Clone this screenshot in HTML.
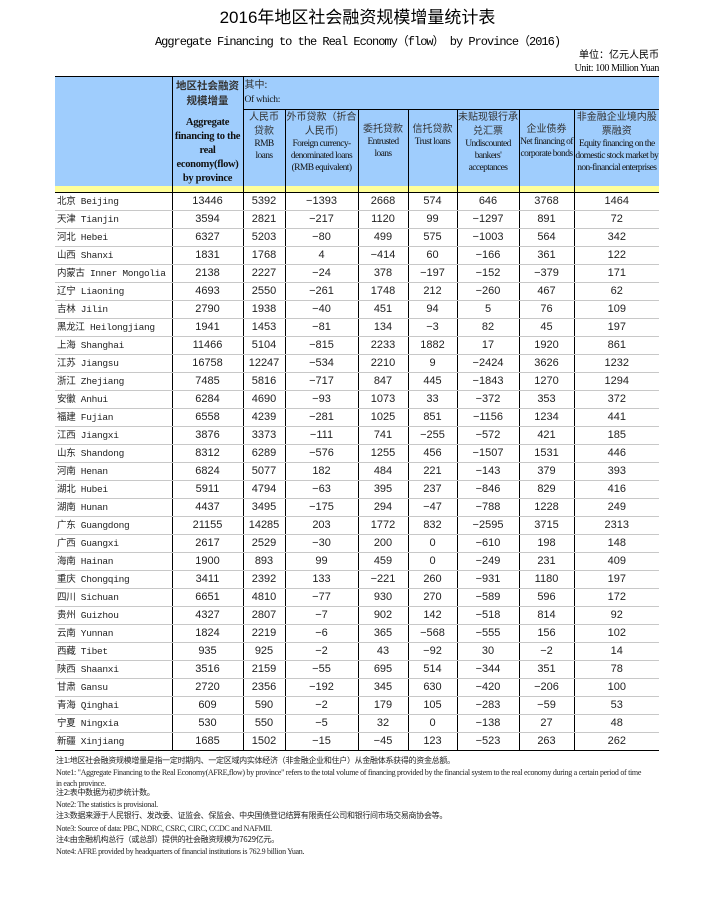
<!DOCTYPE html>
<html><head><meta charset="utf-8"><style>
body{margin:0;background:#fff;width:715px;height:899px;position:relative;overflow:hidden;font-family:"Liberation Serif","Noto Serif CJK SC",serif;}
.t1{position:absolute;top:7px;left:0;width:715px;text-align:center;font:17px/22px "Liberation Sans","Noto Sans CJK SC",sans-serif;}
.t2{position:absolute;top:35px;left:0;width:715px;text-align:center;font:12px/14px "Liberation Mono","Noto Sans CJK SC",monospace;letter-spacing:-1px;}
.u1{position:absolute;top:50px;right:56px;font:10px/12px "Liberation Sans","Noto Sans CJK SC",sans-serif;}
.u2{position:absolute;top:63px;right:56px;font:10px/12px "Liberation Serif",serif;letter-spacing:-0.4px;}
table{position:absolute;left:55px;top:76px;border-collapse:collapse;table-layout:fixed;width:604px;}
td{padding:0;font-size:11px;color:#111;overflow:hidden;}
.h{background:#9fcdfd;border-left:1px solid #000;text-align:center;vertical-align:top;font-size:9.5px;line-height:12px;letter-spacing:-0.6px}
.h .c{font-family:"Noto Sans CJK SC",sans-serif;font-size:10px;color:#333;letter-spacing:0}
tr.top td{border-top:1px solid #000}
.y td{background:#ffff99;height:6px;line-height:6px;font-size:1px;border-left:1px solid #000;border-bottom:1px solid #000}
.y td:first-child{border-left:none}
.d td{height:17px;line-height:17px;border-bottom:1px solid #c8c8c8;border-left:1px solid #000;text-align:center;font-family:"Liberation Sans",sans-serif;font-size:11px;color:#222;white-space:nowrap}
.d td:first-child{border-left:none;text-align:left;font-family:"Liberation Mono","Noto Sans CJK SC",monospace;font-size:9.5px;padding-left:2px;letter-spacing:-0.3px}
.d:last-child td{border-bottom:1px solid #000}
.n{position:absolute;left:56px;font-size:8px;line-height:10px;letter-spacing:-0.3px;white-space:nowrap;color:#222}
.n.c{font-family:"Noto Sans CJK SC",sans-serif;font-size:8px}
</style></head><body>
<div class="t1">2016年地区社会融资规模增量统计表</div>
<div class="t2">Aggregate Financing to the Real Economy（flow） by Province（2016)</div>
<div class="u1">单位：亿元人民币</div>
<div class="u2">Unit: 100 Million Yuan</div>
<table>
<colgroup><col style="width:117px"><col style="width:71px"><col style="width:42px"><col style="width:73px"><col style="width:50px"><col style="width:49px"><col style="width:62px"><col style="width:55px"><col style="width:85px"></colgroup>
<tr class="top" style="height:32px"><td class="h" rowspan="2" style="border-left:none"></td>
<td class="h" rowspan="2" style="font-weight:bold;font-size:10.5px;line-height:14px;padding-top:2px;letter-spacing:-0.3px"><span class="c" style="font-weight:bold;font-size:10.5px;line-height:13px">地区社会融资<br>规模增量</span><div style="margin-top:7px;line-height:14px">Aggregate financing to the real economy(flow) by province</div></td>
<td class="h" colspan="7" style="text-align:left;padding-left:1px;line-height:14px;letter-spacing:-0.3px"><span class="c">其中:</span><br>Of which:</td></tr>
<tr style="height:74px"><td class="h" style="border-top:1px solid #000"><span class="c">人民币<br>贷款</span><br>RMB<br>loans</td>
<td class="h" style="border-top:1px solid #000"><span class="c">外币贷款（折合<br>人民币)</span><br>Foreign currency-denominated loans (RMB equivalent)</td>
<td class="h" style="border-top:1px solid #000"><br><span class="c">委托贷款</span><br>Entrusted loans</td>
<td class="h" style="border-top:1px solid #000"><br><span class="c">信托贷款</span><br>Trust loans</td>
<td class="h" style="border-top:1px solid #000"><span class="c">未贴现银行承<br>兑汇票</span><br>Undiscounted bankers' acceptances</td>
<td class="h" style="border-top:1px solid #000"><br><span class="c">企业债券</span><br>Net financing of corporate bonds</td>
<td class="h" style="border-top:1px solid #000"><span class="c">非金融企业境内股<br>票融资</span><br>Equity financing on the domestic stock market by non-financial enterprises</td></tr>
<tr class="y"><td></td><td></td><td></td><td></td><td></td><td></td><td></td><td></td><td></td></tr>
<tr class="d"><td>北京 Beijing</td><td>13446</td><td>5392</td><td>−1393</td><td>2668</td><td>574</td><td>646</td><td>3768</td><td>1464</td></tr>
<tr class="d"><td>天津 Tianjin</td><td>3594</td><td>2821</td><td>−217</td><td>1120</td><td>99</td><td>−1297</td><td>891</td><td>72</td></tr>
<tr class="d"><td>河北 Hebei</td><td>6327</td><td>5203</td><td>−80</td><td>499</td><td>575</td><td>−1003</td><td>564</td><td>342</td></tr>
<tr class="d"><td>山西 Shanxi</td><td>1831</td><td>1768</td><td>4</td><td>−414</td><td>60</td><td>−166</td><td>361</td><td>122</td></tr>
<tr class="d"><td>内蒙古 Inner Mongolia</td><td>2138</td><td>2227</td><td>−24</td><td>378</td><td>−197</td><td>−152</td><td>−379</td><td>171</td></tr>
<tr class="d"><td>辽宁 Liaoning</td><td>4693</td><td>2550</td><td>−261</td><td>1748</td><td>212</td><td>−260</td><td>467</td><td>62</td></tr>
<tr class="d"><td>吉林 Jilin</td><td>2790</td><td>1938</td><td>−40</td><td>451</td><td>94</td><td>5</td><td>76</td><td>109</td></tr>
<tr class="d"><td>黑龙江 Heilongjiang</td><td>1941</td><td>1453</td><td>−81</td><td>134</td><td>−3</td><td>82</td><td>45</td><td>197</td></tr>
<tr class="d"><td>上海 Shanghai</td><td>11466</td><td>5104</td><td>−815</td><td>2233</td><td>1882</td><td>17</td><td>1920</td><td>861</td></tr>
<tr class="d"><td>江苏 Jiangsu</td><td>16758</td><td>12247</td><td>−534</td><td>2210</td><td>9</td><td>−2424</td><td>3626</td><td>1232</td></tr>
<tr class="d"><td>浙江 Zhejiang</td><td>7485</td><td>5816</td><td>−717</td><td>847</td><td>445</td><td>−1843</td><td>1270</td><td>1294</td></tr>
<tr class="d"><td>安徽 Anhui</td><td>6284</td><td>4690</td><td>−93</td><td>1073</td><td>33</td><td>−372</td><td>353</td><td>372</td></tr>
<tr class="d"><td>福建 Fujian</td><td>6558</td><td>4239</td><td>−281</td><td>1025</td><td>851</td><td>−1156</td><td>1234</td><td>441</td></tr>
<tr class="d"><td>江西 Jiangxi</td><td>3876</td><td>3373</td><td>−111</td><td>741</td><td>−255</td><td>−572</td><td>421</td><td>185</td></tr>
<tr class="d"><td>山东 Shandong</td><td>8312</td><td>6289</td><td>−576</td><td>1255</td><td>456</td><td>−1507</td><td>1531</td><td>446</td></tr>
<tr class="d"><td>河南 Henan</td><td>6824</td><td>5077</td><td>182</td><td>484</td><td>221</td><td>−143</td><td>379</td><td>393</td></tr>
<tr class="d"><td>湖北 Hubei</td><td>5911</td><td>4794</td><td>−63</td><td>395</td><td>237</td><td>−846</td><td>829</td><td>416</td></tr>
<tr class="d"><td>湖南 Hunan</td><td>4437</td><td>3495</td><td>−175</td><td>294</td><td>−47</td><td>−788</td><td>1228</td><td>249</td></tr>
<tr class="d"><td>广东 Guangdong</td><td>21155</td><td>14285</td><td>203</td><td>1772</td><td>832</td><td>−2595</td><td>3715</td><td>2313</td></tr>
<tr class="d"><td>广西 Guangxi</td><td>2617</td><td>2529</td><td>−30</td><td>200</td><td>0</td><td>−610</td><td>198</td><td>148</td></tr>
<tr class="d"><td>海南 Hainan</td><td>1900</td><td>893</td><td>99</td><td>459</td><td>0</td><td>−249</td><td>231</td><td>409</td></tr>
<tr class="d"><td>重庆 Chongqing</td><td>3411</td><td>2392</td><td>133</td><td>−221</td><td>260</td><td>−931</td><td>1180</td><td>197</td></tr>
<tr class="d"><td>四川 Sichuan</td><td>6651</td><td>4810</td><td>−77</td><td>930</td><td>270</td><td>−589</td><td>596</td><td>172</td></tr>
<tr class="d"><td>贵州 Guizhou</td><td>4327</td><td>2807</td><td>−7</td><td>902</td><td>142</td><td>−518</td><td>814</td><td>92</td></tr>
<tr class="d"><td>云南 Yunnan</td><td>1824</td><td>2219</td><td>−6</td><td>365</td><td>−568</td><td>−555</td><td>156</td><td>102</td></tr>
<tr class="d"><td>西藏 Tibet</td><td>935</td><td>925</td><td>−2</td><td>43</td><td>−92</td><td>30</td><td>−2</td><td>14</td></tr>
<tr class="d"><td>陕西 Shaanxi</td><td>3516</td><td>2159</td><td>−55</td><td>695</td><td>514</td><td>−344</td><td>351</td><td>78</td></tr>
<tr class="d"><td>甘肃 Gansu</td><td>2720</td><td>2356</td><td>−192</td><td>345</td><td>630</td><td>−420</td><td>−206</td><td>100</td></tr>
<tr class="d"><td>青海 Qinghai</td><td>609</td><td>590</td><td>−2</td><td>179</td><td>105</td><td>−283</td><td>−59</td><td>53</td></tr>
<tr class="d"><td>宁夏 Ningxia</td><td>530</td><td>550</td><td>−5</td><td>32</td><td>0</td><td>−138</td><td>27</td><td>48</td></tr>
<tr class="d"><td>新疆 Xinjiang</td><td>1685</td><td>1502</td><td>−15</td><td>−45</td><td>123</td><td>−523</td><td>263</td><td>262</td></tr>
</table>
<div class="n c" style="top:756px">注1:地区社会融资规模增量是指一定时期内、一定区域内实体经济（非金融企业和住户）从金融体系获得的资金总额。</div>
<div class="n" style="top:768px">Note1: "Aggregate Financing to the Real Economy(AFRE,flow) by province" refers to the total volume of financing provided by the financial system to the real economy during a certain period of time</div>
<div class="n" style="top:779px">in each province.</div>
<div class="n c" style="top:788px">注2:表中数据为初步统计数。</div>
<div class="n" style="top:800px">Note2: The statistics is provisional.</div>
<div class="n c" style="top:811px">注3:数据来源于人民银行、发改委、证监会、保监会、中央国债登记结算有限责任公司和银行间市场交易商协会等。</div>
<div class="n" style="top:824px">Note3: Source of data: PBC, NDRC, CSRC, CIRC, CCDC and NAFMII.</div>
<div class="n c" style="top:835px">注4:由金融机构总行（或总部）提供的社会融资规模为7629亿元。</div>
<div class="n" style="top:847px">Note4: AFRE provided by headquarters of financial institutions is 762.9 billion Yuan.</div>
</body></html>
